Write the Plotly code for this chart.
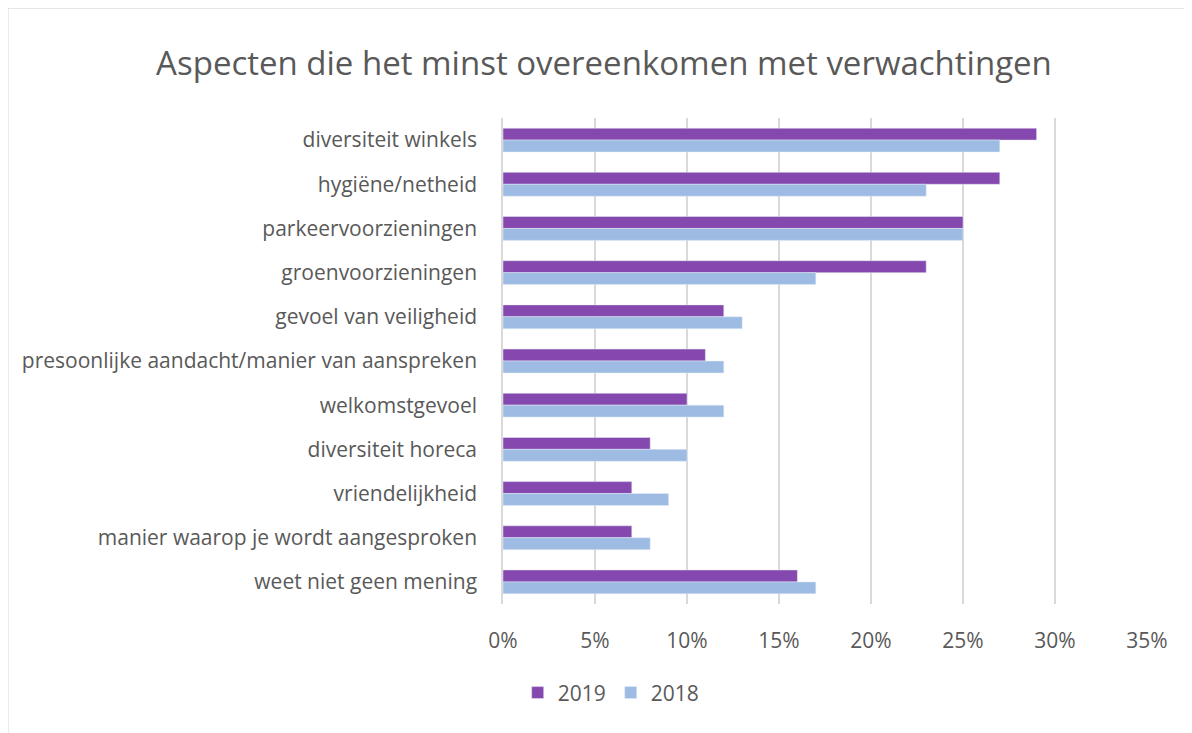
import plotly.graph_objects as go

categories = [
    "diversiteit winkels",
    "hygiëne/netheid",
    "parkeervoorzieningen",
    "groenvoorzieningen",
    "gevoel van veiligheid",
    "presoonlijke aandacht/manier van aanspreken",
    "welkomstgevoel",
    "diversiteit horeca",
    "vriendelijkheid",
    "manier waarop je wordt aangesproken",
    "weet niet geen mening",
]
values_2019 = [0.29, 0.27, 0.25, 0.23, 0.12, 0.11, 0.10, 0.08, 0.07, 0.07, 0.16]
values_2018 = [0.27, 0.23, 0.25, 0.17, 0.13, 0.12, 0.12, 0.10, 0.09, 0.08, 0.17]
tick_vals = [0, 0.05, 0.10, 0.15, 0.20, 0.25, 0.30, 0.35]

font_family = "'Open Sans', sans-serif"
text_color = "#595959"

fig = go.Figure()
fig.add_trace(go.Bar(
    y=categories, x=values_2019, name="2019", orientation="h",
    marker=dict(color="#8548AE"),
))
fig.add_trace(go.Bar(
    y=categories, x=values_2018, name="2018", orientation="h",
    marker=dict(color="#9DBBE3"),
))

fig.update_layout(
    barmode="group",
    bargap=0.46,
    bargroupgap=0,
    width=1192,
    height=733,
    margin=dict(l=495, r=53, t=110, b=137),
    paper_bgcolor="white",
    plot_bgcolor="white",
    font=dict(family=font_family, color=text_color, size=21),
    title=dict(
        text="Aspecten die het minst overeenkomen met verwachtingen",
        x=0.5, xanchor="center", y=0.925, yanchor="middle",
        font=dict(size=33, color=text_color, family=font_family),
    ),
    xaxis=dict(
        range=[0, 0.35],
        tickvals=tick_vals,
        tickformat=".0%",
        showgrid=True,
        gridcolor="#D9D9D9",
        gridwidth=1.5,
        zeroline=False,
        ticks="outside",
        ticklen=18,
        tickcolor="rgba(0,0,0,0)",
        tickfont=dict(size=21, color=text_color),
        fixedrange=True,
    ),
    yaxis=dict(
        autorange="reversed",
        showline=True,
        linecolor="#D9D9D9",
        linewidth=1.5,
        ticks="outside",
        ticklen=20,
        tickcolor="rgba(0,0,0,0)",
        tickfont=dict(size=21, color=text_color),
    ),
    legend=dict(
        orientation="h",
        x=0.168, xanchor="center",
        y=-0.183, yanchor="middle",
        font=dict(size=21, color=text_color),
        itemwidth=30,
    ),
    shapes=[
        dict(
            type="rect", xref="paper", yref="paper",
            x0=-0.7686, x1=1.08, y0=-0.3, y1=1.226,
            line=dict(color="#D9D9D9", width=1),
            fillcolor="rgba(0,0,0,0)",
        )
    ],
)

fig.write_html("out.html")
